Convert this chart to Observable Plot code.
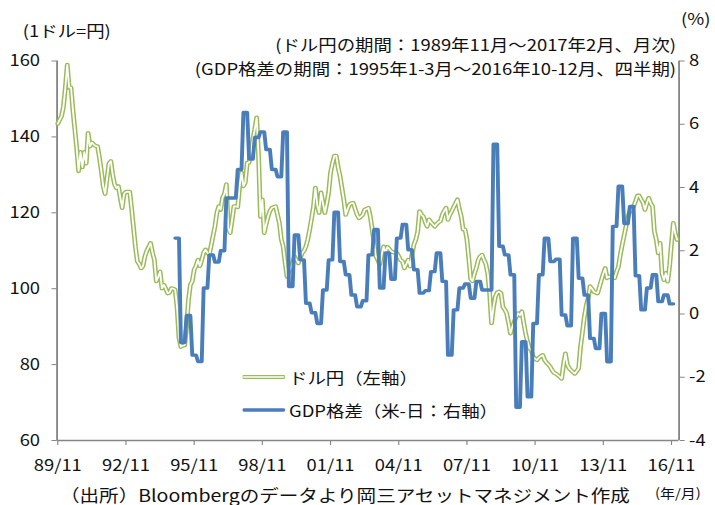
<!DOCTYPE html>
<html>
<head>
<meta charset="utf-8">
<script src="https://cdn.jsdelivr.net/npm/d3@7"></script>
<script src="https://cdn.jsdelivr.net/npm/@observablehq/plot@0.6"></script>
<style>
  html, body { margin: 0; padding: 0; background: #fff; overflow: hidden; }
  #wrap { position: relative; width: 621.74px; height: 505px; transform: scaleX(1.15); transform-origin: 0 0;
          font-family: "Noto Sans CJK JP", "Noto Sans", sans-serif; color: #111; }
  #wrap svg.plot { position: absolute; left: 0; top: 0; }
  .t { position: absolute; white-space: nowrap; font-size: 16px; line-height: 1; transform: translateY(-50%); }
</style>
</head>
<body>
<div id="wrap"></div>
<script>
// ---- Data ----
// USD/JPY monthly, 1989/11 .. 2017/02 (index 0 = 1989/11)
const usdjpy = [
  143.5,144.5,145.5,148,153,159,153,153,147,142,
  137,131,136,132,136,133,141,137.5,138.5,138,
  137.6,137.5,134.5,131,127,125,129,133,133.6,130,
  127.5,126.5,127,124,121.3,125,125.5,125.5,125.5,121,
  116,111,107.2,106.5,105.4,106,108.5,110,111,112,
  109.5,107.6,102,103,104.5,100.1,101,100,98.8,99,
  100.1,100,99.7,95,87,84.7,85,85.1,90,97,
  101,102,105,106,107.6,106,107.6,109.5,110.3,109.5,
  108.9,111.5,114,116.5,120,121.7,120.8,124,125,127.5,
  116,114.7,118,121.7,121.7,121.5,127,130.6,127,128,
  133.2,133.2,136,139.4,142,145.1,135,119,123.5,114.7,
  117,119,120.5,121.3,121.5,121.7,119.5,117.3,113,111.1,
  107,103.2,104.5,105.4,107,108.5,107.5,106.7,108,109.4,
  110,111.1,113,115.6,118.5,121.7,126.6,122,120,125.3,
  122.5,120,122.5,125.3,130.6,133,135,135,132,129.7,
  126.5,123.5,119.5,121,122.2,122.5,122.6,121,119.5,118.6,
  119,119.5,120.8,121,121.3,119,115.6,112,108.5,107.5,
  106.3,109,111.1,109.4,111,110.5,109.8,109.6,109.5,109.4,
  108.5,107.5,107.2,105.4,106.5,107.6,105.9,109,111.6,112.9,
  115,120.4,119.5,119,117.5,116.4,118.2,117.5,117,116.4,
  117,117.5,117.8,119.5,120.5,121.3,118.2,119.5,120.4,121.5,
  122.5,123.5,121,119,115.6,115.6,113,108,102.5,102,
  104,105.5,107.6,108.5,108.9,107.6,106.5,104,98.8,90.9,
  95,97.9,99,99.2,98.8,95.2,94.5,93.5,91,88.2,
  90,91.3,92.5,93.5,93,94,91,88.2,86,84.3,
  83.8,82,81.5,81.2,81.8,82.2,82.5,81.2,80.5,80,
  79.4,78.5,77.8,77.6,77.2,76.8,76.3,80,82.9,80,
  79,78.5,78,77.6,78.3,79,84.7,88.5,92.6,95.5,
  97.5,100.6,100,99.2,99,98.8,100.5,102.3,104,105.4,
  102.8,103.2,103,102.9,102.8,104.5,105.8,109,111.6,114,
  116.4,119,120.3,121,121.7,123,124.5,124.5,123.5,122.6,
  120.8,122.5,123.9,122.5,121.7,115,112.9,109.4,112,104,
  102.3,104.1,101.9,106,112,117.3,114.5,112.9
];
// GDP growth gap (US - Japan, %), quarterly 1995 Q1 .. 2016 Q4
const gdpGap = [
  2.4, -0.9, -0.05, -1.3,
  -1.5, 0.82, 1.87, 1.64,
  2.0, 3.67, 3.67, 4.57,
  6.37, 4.9, 5.58, 5.76,
  5.2, 4.57, 4.34, 5.76,
  0.87, 2.5, 1.71, 0.34,
  0.04, -0.3, 0.76, 1.71,
  3.22, 1.66, 1.24, 0.6,
  0.23, 0.42, 1.87, 2.67,
  0.82, 1.93, 1.1, 2.4,
  2.83, 2.03, 1.4, 0.66,
  0.74, 1.34, 1.93, 1.03,
  -1.3, 0.13, 0.82, 0.95,
  0.5, 1.03, 0.76, 0.76,
  5.37, 2.14, 1.87, 1.24,
  -2.95, -0.88, -2.62, -0.3,
  1.24, 2.4, 1.66, 1.73,
  -0.03, -0.37, 2.4, 1.13,
  0.6, -0.77, -1.09, 0.02,
  -1.51, 2.77, 4.04, 2.86,
  3.4, 1.21, 0.13, 0.82,
  1.24, 0.39, 0.6, 0.32
];
const gdpStartMonth = 62; // 1995/01 as month index from 1989/11
const xTickLabels = ["89/11","92/11","95/11","98/11","01/11","04/11","07/11","10/11","13/11","16/11"];
const leftTicks = [60, 80, 100, 120, 140, 160];
const rightTicks = [-4, -2, 0, 2, 4, 6, 8];

// ---- Layout helpers ----
const S = 1.15;                 // horizontal stretch of the original picture
const W = 715 / S;
const gx = px => px / S;
const yR = v => 60 + (v + 4) * 100 / 12;   // right axis (%) -> left axis units
const yRinv = d => Math.round((d - 60) * 12 / 100 - 4);

const usdPts = usdjpy.map((v, i) => ({m: i, v}));
const gdpPts = gdpGap.flatMap((v, q) => [0, 1, 2].map(k => ({m: gdpStartMonth + 3 * q + k, v: yR(v)})));
const xTickPos = xTickLabels.map((_, i) => i * 36);
const xDomain = [-0.37, 328];

const font = '"Noto Sans CJK JP", "Noto Sans", sans-serif';
const chart = Plot.plot({
  width: W,
  height: 505,
  marginLeft: gx(56.5),
  marginRight: gx(715 - 678.5),
  marginTop: 60.5,
  marginBottom: 65,
  style: {fontFamily: font, fontSize: "16px", color: "#111", background: "transparent", overflow: "visible"},
  x: {type: "linear", domain: xDomain},
  y: {domain: [60, 160]},
  marks: [
    Plot.ruleX(xDomain, {stroke: "#868686", strokeWidth: 1.6}),
    Plot.ruleY([60], {stroke: "#868686", strokeWidth: 1.6}),
    Plot.line(usdPts, {x: "m", y: "v", stroke: "#9BBB59", strokeWidth: 4.2, strokeLinejoin: "round"}),
    Plot.line(usdPts, {x: "m", y: "v", stroke: "#ffffff", strokeWidth: 1.6, strokeLinejoin: "round"}),
    Plot.line(gdpPts, {x: "m", y: "v", stroke: "#4A7EBB", strokeWidth: 3.4, strokeLinejoin: "round"}),
    Plot.axisY(leftTicks, {anchor: "left", tickSize: gx(5), tickPadding: gx(12), stroke: "#868686", fill: "#111", label: null}),
    Plot.axisY(rightTicks.map(yR), {anchor: "right", tickSize: gx(5), tickPadding: gx(5), stroke: "#868686", fill: "#111",
      tickFormat: d => String(yRinv(d)), label: null}),
    Plot.axisX(xTickPos, {anchor: "bottom", tickSize: 5, tickPadding: 14, stroke: "#868686", fill: "#111",
      tickFormat: d => xTickLabels[Math.round(d / 36)], label: null})
  ]
});
const wrap = document.getElementById("wrap");
wrap.appendChild(chart);

// ---- Texts (positions given in original picture pixels) ----
function addText(txt, opts) {
  const d = document.createElement("div");
  d.className = "t";
  d.textContent = txt;
  if (opts.left != null) d.style.left = gx(opts.left) + "px";
  if (opts.right != null) d.style.right = gx(715 - opts.right) + "px";
  d.style.top = opts.yc + "px";
  if (opts.size) d.style.fontSize = opts.size + "px";
  wrap.appendChild(d);
  return d;
}
addText("(1ドル=円)", {left: 22.7, yc: 30});
addText("(%)", {left: 681, yc: 18});
addText("(ドル円の期間：1989年11月～2017年2月、月次)", {right: 676, yc: 44});
addText("(GDP格差の期間：1995年1-3月～2016年10-12月、四半期)", {right: 676, yc: 68});
addText("（出所）Bloombergのデータより岡三アセットマネジメント作成", {left: 60, yc: 494, size: 17});
addText("(年/月)", {left: 655, yc: 492, size: 13});

// ---- Legend ----
const legendItems = [
  {label: "ドル円（左軸）", color: "#9BBB59", hollow: true, yc: 377},
  {label: "GDP格差（米-日：右軸）", color: "#4A7EBB", hollow: false, yc: 410}
];
legendItems.forEach(it => {
  const svgNS = "http://www.w3.org/2000/svg";
  const s = document.createElementNS(svgNS, "svg");
  const w = gx(285 - 243);
  s.setAttribute("width", w);
  s.setAttribute("height", 10);
  s.style.position = "absolute";
  s.style.left = gx(243) + "px";
  s.style.top = (it.yc - 5) + "px";
  const mk = (stroke, sw) => {
    const l = document.createElementNS(svgNS, "line");
    l.setAttribute("x1", 1); l.setAttribute("x2", w - 1);
    l.setAttribute("y1", 5); l.setAttribute("y2", 5);
    l.setAttribute("stroke", stroke); l.setAttribute("stroke-width", sw);
    l.setAttribute("stroke-linecap", "round");
    s.appendChild(l);
  };
  if (it.hollow) { mk(it.color, 4.2); mk("#fff", 1.6); } else { mk(it.color, 3.4); }
  wrap.appendChild(s);
  addText(it.label, {left: 289, yc: it.yc});
});
</script>
</body>
</html>
